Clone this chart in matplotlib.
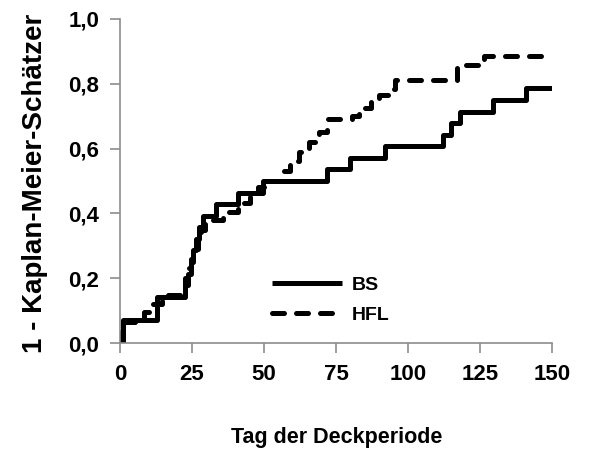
import matplotlib
matplotlib.use('Agg')
import matplotlib.pyplot as plt

plt.rcParams['font.family'] = ['Liberation Sans', 'DejaVu Sans']

# BS: Tag und Wert nach dem Sprung
bs_tage = [0, 1, 13, 22.5, 23.5, 24.5, 25.5, 26.5, 27.5, 29, 33.5, 41, 49.5,
           72, 80, 92, 112, 115, 118, 129.5, 141, 150]
bs_werte = [0, 0.071, 0.143, 0.179, 0.214, 0.25, 0.286, 0.321, 0.357, 0.393,
            0.429, 0.464, 0.5, 0.536, 0.571, 0.607, 0.643, 0.679, 0.714, 0.75,
            0.786, 0.786]

# HFL
hfl_tage = [0, 0.5, 1, 8.5, 11.5, 14.5, 21.5, 22.5, 23.5, 24.5, 26, 27, 28,
            29.5, 35.8, 41, 45, 48, 50, 57, 59, 62, 65.5, 69, 72, 80.5, 83,
            87, 90, 93, 95.5, 117, 126.5, 150]
hfl_werte = [0, 0.033, 0.066, 0.097, 0.12, 0.148, 0.17, 0.2, 0.23, 0.26,
             0.29, 0.32, 0.35, 0.38, 0.405, 0.432, 0.457, 0.48, 0.5, 0.53,
             0.56, 0.59, 0.62, 0.65, 0.69, 0.70, 0.725, 0.745, 0.765, 0.785,
             0.81, 0.858, 0.884, 0.884]

x_ticks = [0, 25, 50, 75, 100, 125, 150]
y_ticks = [0.0, 0.2, 0.4, 0.6, 0.8, 1.0]

fig = plt.figure(figsize=(5.91, 4.49), dpi=100)
ax = fig.add_axes([0.203, 0.236, 0.731, 0.722])

ax.step(bs_tage, bs_werte, where='post', color='black', lw=3.6,
        solid_capstyle='butt', label='BS')
ax.step(hfl_tage, hfl_werte, where='post', color='black', lw=3.6,
        linestyle=(0, (2.4, 2.4)), dash_capstyle='round', label='HFL')

ax.set_xlim(0, 150)
ax.set_ylim(0, 1.0)
ax.set_xticks(x_ticks)
ax.set_yticks(y_ticks)
ax.set_xticklabels([str(t) for t in x_ticks], fontsize=16, fontweight='bold')
ax.set_yticklabels([f'{t:.1f}'.replace('.', ',') for t in y_ticks],
                   fontsize=16, fontweight='bold')

for s in ['top', 'right']:
    ax.spines[s].set_visible(False)
for s in ['left', 'bottom']:
    ax.spines[s].set_color('#8c8c8c')
    ax.spines[s].set_linewidth(1.2)
ax.tick_params(direction='out', length=7, color='#8c8c8c', width=1.2, pad=8)

fig.text(0.569, 0.0134, 'Tag der Deckperiode', fontsize=15.5,
         fontweight='bold', ha='center', va='baseline')
fig.text(0.059, 0.592, '1 - Kaplan-Meier-Schätzer', fontsize=20,
         fontweight='bold', ha='center', va='center', rotation=90)

leg = ax.legend(loc='upper left', bbox_to_anchor=(272 / 591, 1 - 276 / 449),
                bbox_transform=fig.transFigure, frameon=False, borderpad=0,
                borderaxespad=0, prop={'size': 14, 'weight': 'bold'},
                handlelength=3.6, handletextpad=0.5, labelspacing=0.65)

fig.savefig('out.png', dpi=100)
